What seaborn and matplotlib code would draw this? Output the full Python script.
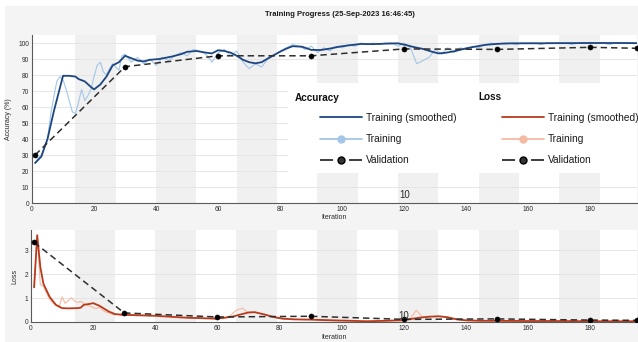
import matplotlib
matplotlib.use("Agg")
import matplotlib.pyplot as plt
from matplotlib.lines import Line2D
from matplotlib.patches import Rectangle
import pandas as pd
import seaborn as sns

TITLE = "Training Progress (25-Sep-2023 16:46:45)"
ITERS_PER_EPOCH = 13
N_EPOCHS = 15

# --- accuracy -------------------------------------------------------------
acc_smooth_iter = [1, 3, 5, 7, 10, 12, 14, 15, 17, 19, 20, 22, 24, 26, 28, 30,
                   32, 34, 36, 38, 41, 45, 48, 50, 53, 56, 58, 60, 62, 64, 66,
                   68, 70, 72, 74, 76, 78, 80, 82, 84, 87, 90, 93, 96, 99, 102,
                   106, 110, 114, 118, 121, 123, 126, 129, 131, 133, 136, 140,
                   143, 146, 150, 155, 160, 170, 180, 190, 195]
acc_smooth = [25, 29, 40, 57, 79.5, 79.5, 79, 77.5, 76, 72.5, 71, 74, 79, 86,
              88, 92, 90.5, 89, 88.5, 89.5, 90, 91.5, 93, 94.5, 95, 94, 93.5,
              95.5, 95, 94, 92, 89.5, 88, 87.3, 88, 90.3, 92.5, 94.6, 96.5, 98,
              97.7, 95.7, 95.6, 96.5, 97.7, 98.5, 99.4, 99.3, 99.6, 99.8, 98.5,
              97.5, 96.3, 94.5, 93.5, 93.8, 94.8, 96.7, 97.8, 98.8, 99.5, 99.8,
              99.8, 99.9, 100, 100, 99.9]

raw_iter = list(range(1, 31)) + list(range(32, 196, 2))
acc_raw = [25, 28, 30, 35, 40, 55, 66, 76, 79, 77,
           71, 64, 57, 56, 63, 71, 64, 67, 71, 79,
           86, 88, 82, 80, 84, 87, 85, 83, 92, 93,
           88, 91, 87, 90, 86, 91, 89, 92, 94, 92,
           96, 95, 93, 88, 94, 96, 92, 95, 88, 84,
           87, 85, 90, 92, 95, 97, 99, 98, 96, 98,
           94, 97, 95, 98, 97, 99, 98, 100, 99, 100,
           99, 100, 100, 98, 100, 97, 87, 89, 91, 96,
           93, 97, 94, 97, 96, 98, 97, 99, 100, 99,
           100, 100, 99, 100, 100, 100, 99, 100, 100, 100,
           100, 99, 100, 100, 100, 100, 100, 99, 100, 100,
           100, 100]

val_iter = [1, 30, 60, 90, 120, 150, 180, 195]
acc_val = [30, 85.2, 92, 92, 96.3, 96, 97.3, 96.7]

# --- loss -----------------------------------------------------------------
loss_smooth_iter = [1, 2, 3, 4, 6, 8, 10, 12, 15, 16, 17, 19, 20, 22, 25, 27,
                    30, 35, 40, 45, 50, 55, 59, 62, 65, 67, 70, 72, 75, 78, 81,
                    85, 90, 97, 103, 108, 114, 119, 122, 125, 128, 131, 134,
                    137, 140, 145, 150, 160, 170, 180, 190, 195]
loss_smooth = [1.45, 3.63, 2.3, 1.6, 1.05, 0.72, 0.58, 0.57, 0.58, 0.6, 0.72,
               0.76, 0.79, 0.68, 0.44, 0.33, 0.3, 0.28, 0.26, 0.22, 0.18, 0.16,
               0.14, 0.17, 0.23, 0.3, 0.4, 0.41, 0.32, 0.21, 0.14, 0.11, 0.1,
               0.07, 0.05, 0.03, 0.05, 0.07, 0.12, 0.18, 0.22, 0.24, 0.2, 0.11,
               0.07, 0.05, 0.05, 0.04, 0.04, 0.03, 0.03, 0.03]

loss_raw = [1.45, 3.65, 1.55, 1.5, 1.2, 0.95, 0.8, 0.7, 0.62, 1.05,
            0.78, 0.9, 1.02, 0.88, 0.82, 0.86, 0.78, 0.7, 0.66, 0.6,
            0.56, 0.62, 0.5, 0.42, 0.38, 0.33, 0.3, 0.32, 0.28, 0.27,
            0.3, 0.26, 0.29, 0.25, 0.27, 0.22, 0.24, 0.2, 0.18, 0.19,
            0.15, 0.17, 0.14, 0.16, 0.13, 0.18, 0.25, 0.49, 0.58, 0.38,
            0.42, 0.34, 0.28, 0.2, 0.14, 0.12, 0.1, 0.11, 0.09, 0.1,
            0.08, 0.07, 0.08, 0.06, 0.05, 0.06, 0.04, 0.03, 0.04, 0.03,
            0.05, 0.04, 0.06, 0.08, 0.1, 0.14, 0.49, 0.2, 0.24, 0.22,
            0.25, 0.18, 0.12, 0.08, 0.06, 0.05, 0.04, 0.06, 0.04, 0.05,
            0.04, 0.03, 0.05, 0.04, 0.03, 0.04, 0.03, 0.05, 0.04, 0.03,
            0.04, 0.03, 0.03, 0.04, 0.03, 0.03, 0.02, 0.03, 0.03, 0.02,
            0.03, 0.03]

loss_val = [3.33, 0.38, 0.21, 0.24, 0.11, 0.13, 0.08, 0.07]

# --- styling ---------------------------------------------------------------
sns.set_style("white")
plt.rcParams["font.family"] = ["Liberation Sans", "DejaVu Sans"]

FIG_BG = "#f4f4f4"
BAND = "#f0f0f0"
GRID = "#e2e2e2"
AXIS = "#5a5a5a"
TXT = "#2b2b2b"
ACC_DARK = "#1d4680"
ACC_LIGHT = "#a3c6e8"
LOSS_DARK = "#b83a1c"
LOSS_LIGHT = "#f5baa2"
VAL = "#2e2e2e"
DASH = (4.2, 2.6)

W, H = 638, 342
fig = plt.figure(figsize=(W / 100, H / 100), dpi=100, facecolor="white")
fig.add_artist(Rectangle((5 / W, 0), 1, 1 - 6 / H, transform=fig.transFigure,
                         facecolor=FIG_BG, edgecolor="none", zorder=-10))

ax_acc = fig.add_axes([32 / W, 1 - 203 / H, 605 / W, 168 / H])
ax_loss = fig.add_axes([31 / W, 1 - 322 / H, 606 / W, 92 / H])


def style_axes(ax, ylim, yticks):
    ax.set_facecolor("white")
    ax.set_xlim(0, ITERS_PER_EPOCH * N_EPOCHS)
    ax.set_ylim(*ylim)
    ax.set_xticks(range(0, 181, 20))
    ax.set_yticks(yticks)
    for k in range(1, N_EPOCHS, 2):
        ax.axvspan(ITERS_PER_EPOCH * k + 1, ITERS_PER_EPOCH * (k + 1) + 1,
                   color=BAND, lw=0, zorder=0.1)
    ax.grid(axis="y", color=GRID, lw=0.6, zorder=0.5)
    ax.grid(axis="x", visible=False)
    ax.set_axisbelow(True)
    for side in ("top", "right"):
        ax.spines[side].set_visible(False)
    for side in ("left", "bottom"):
        ax.spines[side].set_color(AXIS)
        ax.spines[side].set_linewidth(0.8)
    ax.tick_params(direction="in", length=3, width=0.6, color=AXIS,
                   labelsize=4.8, labelcolor=TXT, pad=2)


def draw_pair(ax, s_it, s_val, r_it, r_val, v_val, dark, light):
    sns.lineplot(x=r_it, y=r_val, ax=ax, color=light, lw=0.8, legend=False,
                 zorder=2)
    sns.lineplot(x=s_it, y=s_val, ax=ax, color=dark, lw=1.3, legend=False,
                 zorder=3)
    sns.lineplot(x=val_iter, y=v_val, ax=ax, color=VAL, lw=1.1, ls="--",
                 dashes=False, legend=False, zorder=4)
    ax.lines[-1].set_dashes(DASH)
    sns.scatterplot(x=val_iter, y=v_val, ax=ax, color="black", s=14,
                    edgecolor="black", linewidth=0.3, legend=False, zorder=5)


style_axes(ax_acc, (0, 105), range(0, 101, 10))
draw_pair(ax_acc, acc_smooth_iter, acc_smooth, raw_iter, acc_raw, acc_val,
          ACC_DARK, ACC_LIGHT)
ax_acc.set_ylabel("Accuracy (%)", fontsize=5, color=TXT)
ax_acc.yaxis.set_label_coords(-0.033, 0.5)
ax_acc.set_xlabel("Iteration", fontsize=5, color=TXT)
ax_acc.xaxis.set_label_coords(0.5, -0.065)
ax_acc.text(120, 5, "10", fontsize=7, ha="center", va="center", color=TXT,
            zorder=6)

style_axes(ax_loss, (0, 3.85), [0, 1, 2, 3])
draw_pair(ax_loss, loss_smooth_iter, loss_smooth, raw_iter, loss_raw, loss_val,
          LOSS_DARK, LOSS_LIGHT)
ax_loss.set_ylabel("Loss", fontsize=5, color=TXT)
ax_loss.yaxis.set_label_coords(-0.021, 0.5)
ax_loss.set_xlabel("Iteration", fontsize=5, color=TXT)
ax_loss.xaxis.set_label_coords(0.5, -0.13)
ax_loss.text(120, 0.25, "10", fontsize=7, ha="center", va="center", color=TXT,
             zorder=6)

fig.text(0.533, 1 - 14 / H, TITLE, fontsize=5.5, fontweight="bold",
         ha="center", va="center", color="#1a1a1a")

# legend panel
ax_acc.add_patch(Rectangle((288 / W, 1 - 173 / H), (637 - 288) / W, 90 / H,
                           transform=fig.transFigure, facecolor="white",
                           edgecolor="none", zorder=1.5))
fig.text(295 / W, 1 - 98 / H, "Accuracy", fontsize=7.2, fontweight="bold",
         ha="left", va="center", color="#111111")
fig.text(478 / W, 1 - 97 / H, "Loss", fontsize=7.2, fontweight="bold",
         ha="left", va="center", color="#111111")


def legend_handles(dark, light):
    return [
        Line2D([], [], color=dark, lw=1.3),
        Line2D([], [], color=light, lw=1.3, marker="o", markersize=5,
               markerfacecolor=light, markeredgecolor=light),
        Line2D([], [], color=VAL, lw=1.3, ls=(0, (7.2, 8.9)), marker="o",
               markersize=5, markerfacecolor="#333333",
               markeredgecolor="black"),
    ]


labels = ["Training (smoothed)", "Training", "Validation"]
for hx, dark, light in ((320, ACC_DARK, ACC_LIGHT), (502, LOSS_DARK, LOSS_LIGHT)):
    leg = fig.legend(legend_handles(dark, light), labels, loc="upper left",
                     bbox_to_anchor=(hx / W, 1 - 113 / H), frameon=False,
                     fontsize=7.3, handlelength=4.1, handletextpad=0.4,
                     labelspacing=1.1, borderpad=0, borderaxespad=0,
                     numpoints=1)
    for t in leg.get_texts():
        t.set_color("#1a1a1a")

fig.savefig("out.png", dpi=100, facecolor=fig.get_facecolor())
